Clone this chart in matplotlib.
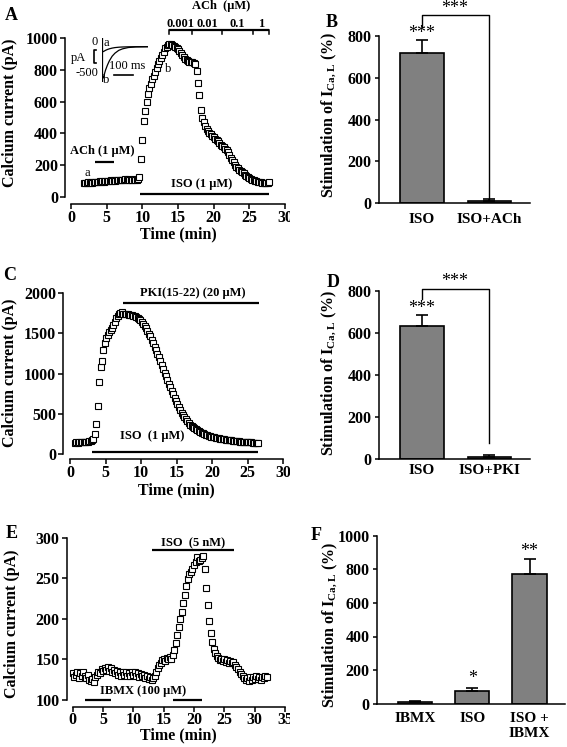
import numpy as np
import matplotlib
matplotlib.use("Agg")
import matplotlib.pyplot as plt
from matplotlib.transforms import Bbox

plt.rcParams["font.family"] = ["Liberation Serif", "DejaVu Serif"]
plt.rcParams["font.weight"] = "bold"
plt.rcParams["axes.labelweight"] = "bold"
plt.rcParams["mathtext.fontset"] = "custom"
plt.rcParams["mathtext.rm"] = "Liberation Serif"
plt.rcParams["axes.linewidth"] = 1.1

# ---- data -------------------------------------------------------------
# panel A: ISO then ACh, sampled every 0.2 min from 1.8 min
a_start, a_step = 1.8, 0.2
a_current = [85, 90, 86, 92, 88, 93, 90, 95, 92, 97, 94, 98, 96, 100, 97, 101, 99, 103, 100, 104,
             102, 106, 103, 107, 105, 108, 106, 110, 107, 111, 108, 112, 109, 110, 107, 112, 108, 110, 113,
             125, 237, 360, 480, 540, 600, 650, 685, 710, 740, 760, 785, 810, 835, 855, 876, 895, 915,
             935, 945, 958, 965, 960, 955, 948, 942, 938, 930, 918, 905, 890, 878, 868, 860, 853, 850,
             848, 846, 843, 838,
             790, 720, 640, 550, 495, 470, 445, 428, 415, 405, 394, 385, 375, 366, 358, 350, 340, 330,
             322, 313, 304, 296, 282, 262, 246, 232, 218, 204, 191, 181, 172, 163, 155, 148, 141, 134,
             127, 121, 115, 110, 106, 102, 99, 96, 94, 92, 91, 90, 90, 89, 90, 92]
ach_conc_labels = ["0.001", "0.01", "0.1", "1"]
ach_conc_edges = [13.8, 16.9, 21.2, 25.5, 27.7]

# inset current traces (ms, pA)
trace_ms = [0, 3, 6, 10, 15, 20, 30, 40, 55, 70, 90, 110, 140, 180, 244]
trace_a = [0, -70, -89, -85, -75, -65, -50, -38, -25, -16, -9, -5, -2, 0, 0]
trace_b = [0, -520, -564, -540, -480, -420, -330, -255, -170, -115, -65, -38, -15, -4, 0]

# panel C: ISO then PKI, every 0.2 min from 0.7 min
c_start, c_step = 0.7, 0.2
c_current = [140, 145, 142, 148, 150, 146, 152, 150, 155, 150, 158, 160, 175,
             185, 250, 370, 600, 900, 1080, 1150, 1290, 1375, 1437, 1480, 1510, 1540, 1570, 1602, 1640,
             1690, 1715, 1740, 1750,
             1760, 1745, 1740, 1735, 1740, 1730, 1725, 1730, 1720, 1715, 1700, 1690,
             1680, 1660, 1640, 1615, 1590, 1560, 1530, 1495, 1460, 1420,
             1380, 1335, 1290, 1245, 1200, 1155, 1105, 1060, 1010, 965,
             920, 875, 830, 785, 740, 695, 655, 615, 578, 545,
             512, 482, 455, 430, 407, 386, 366, 348, 332, 318,
             305, 293, 282, 272, 263, 255, 247, 240, 233, 227,
             221, 216, 211, 206, 202, 198, 194, 190, 187, 184,
             181, 178, 175, 172, 170, 168, 165, 163, 161, 159,
             157, 155, 153, 152, 150, 148, 147, 145, 144, 143,
             142, 141, 140, 140, 139]

# panel E: IBMX / ISO 5 nM, every 0.25 min from 0
e_start, e_step = 0.0, 0.25
e_current = [133, 128, 131, 135, 127, 133, 129, 134, 130, 127,
             131, 125, 123, 126, 122, 128, 131, 135, 133, 138,
             136, 140, 137, 141, 136, 139, 134, 137, 133, 136,
             131, 135, 130, 134, 131, 135, 130, 133, 129, 134,
             131, 135, 130, 133, 128, 132, 129, 131, 127, 130,
             126, 128, 125, 127, 130, 135, 139, 143, 146, 149,
             151, 148, 152, 150, 153, 151, 155, 162, 170, 180,
             190, 200, 209, 219, 229, 240, 249, 255, 258, 262,
             266, 270, 276, 271, 273, 275, 277, 262, 238, 217,
             197, 182, 171, 163, 158, 154, 152, 149, 151, 148,
             150, 147, 149, 146, 148, 145, 147, 143, 141, 138,
             135, 132, 130, 127, 125, 127, 124, 128, 125, 128,
             126, 129, 126, 128, 125, 128, 127, 129, 128]

# bar panels
b_labels = ["ISO", "ISO+ACh"]
b_values = [720, 8]
b_errors = [61, 10]
d_labels = ["ISO", "ISO+PKI"]
d_values = [633, 10]
d_errors = [51, 7]
f_labels = ["IBMX", "ISO", "ISO +\nIBMX"]
f_values = [10, 75, 771]
f_errors = [8, 20, 92]

# ---- figure -----------------------------------------------------------
W, H = 567, 747
fig = plt.figure(figsize=(W / 100, H / 100), dpi=100)
PT = 0.72  # points per pixel


def add_ax(x0, x1, y0, y1):
    return fig.add_axes([x0 / W, 1 - y1 / H, (x1 - x0) / W, (y1 - y0) / H])


def trace_axes(ax, xticks, yticks, left_off, bottom_off):
    ax.set_xlim(xticks[0], xticks[-1])
    ax.set_ylim(yticks[0], yticks[-1])
    for s in ["top", "right"]:
        ax.spines[s].set_visible(False)
    ax.spines["left"].set_position(("outward", left_off * PT))
    ax.spines["bottom"].set_position(("outward", bottom_off * PT))
    ax.spines["left"].set_bounds(yticks[0], yticks[-1])
    ax.spines["bottom"].set_bounds(xticks[0], xticks[-1])
    ax.set_xticks(xticks)
    ax.set_yticks(yticks)
    ax.tick_params(direction="out", length=3.6, width=1.1, labelsize=11.5, pad=1.5)
    ax.tick_params(axis="x", pad=0.5)
    ax.patch.set_visible(False)
    clip = Bbox.from_extents(0, 0, 290, H)
    for lab in ax.get_xticklabels():
        lab.set_clip_on(True)
        lab.set_clip_box(clip)


def squares(ax, start, step, values):
    t = start + step * np.arange(len(values))
    ax.plot(t, values, "s", ms=4.6, mfc="white", mec="black", mew=0.8, clip_on=False)


def hbar(ax, x0, x1, y):
    ax.plot([x0, x1], [y, y], color="black", lw=1.6, solid_capstyle="butt", clip_on=False)


def bar_axes(ax, labels, values, errors, xlim, yticks, width, pad):
    x = np.arange(len(labels))
    ax.bar(x, values, width=width, color="#808080", edgecolor="black", lw=1.2, zorder=2)
    ax.errorbar(x, values, yerr=[np.zeros(len(errors)), errors], fmt="none", ecolor="black",
                elinewidth=1.2, capsize=4.5, capthick=1.2, zorder=3)
    ax.set_xlim(xlim)
    ax.set_ylim(yticks[0], yticks[-1])
    for s in ["top", "right"]:
        ax.spines[s].set_visible(False)
    ax.set_yticks(yticks)
    ax.set_xticks(x)
    ax.set_xticklabels(labels)
    ax.tick_params(axis="x", length=0, pad=pad, labelsize=11)
    ax.tick_params(axis="y", direction="out", length=3, width=1.1, pad=2.5, labelsize=11.5)
    ax.patch.set_visible(False)
    ax.set_ylabel(r"Stimulation of I$_{\mathrm{Ca,L}}$ (%)", fontsize=11.5,
                  fontweight="bold", va="center")


def stars(ax, x, y, s):
    ax.text(x, y, s, ha="center", va="center", fontsize=13, fontweight="normal", clip_on=False)


def letter(x, y, s):
    fig.text(x / W, 1 - y / H, s, ha="center", va="center", fontsize=13, fontweight="bold")


def labels(ax, ylx, yly, xly):
    ax.set_ylabel("Calcium current (pA)", fontsize=11.5, fontweight="bold", va="center")
    ax.yaxis.set_label_coords(ylx, yly)
    ax.set_xlabel("Time (min)", fontsize=11.5, fontweight="bold", va="center")
    ax.xaxis.set_label_coords(0.5, xly)


# ---- A ----------------------------------------------------------------
ax = add_ax(71, 285, 38, 197)
trace_axes(ax, [0, 5, 10, 15, 20, 25, 30], [0, 200, 400, 600, 800, 1000], 6, 7)
squares(ax, a_start, a_step, a_current)
hbar(ax, 3.4, 6.0, 222)
ax.text(4.4, 291, "ACh (1 \u03bcM)", ha="center", va="center", fontsize=9)
hbar(ax, 9.7, 27.7, 19)
ax.text(18.3, 82, "ISO (1 \u03bcM)", ha="center", va="center", fontsize=9)
hbar(ax, ach_conc_edges[0], ach_conc_edges[-1], 1050)
for e in ach_conc_edges:
    ax.plot([e, e], [1050, 1025], color="black", lw=1.1, clip_on=False)
for lab, e0, e1 in zip(ach_conc_labels, ach_conc_edges[:-1], ach_conc_edges[1:]):
    ax.text((e0 + e1) / 2, 1085, lab, ha="center", va="center", fontsize=9)
ax.text(21.1, 1200, "ACh  (\u03bcM)", ha="center", va="center", fontsize=9)
ax.text(2.3, 153, "a", ha="center", va="center", fontsize=9, fontweight="normal")
ax.text(13.6, 803, "b", ha="center", va="center", fontsize=9, fontweight="normal")
labels(ax, -0.285, 0.53, -0.235)
letter(11.7, 15.3, "A")

# inset traces
ins = add_ax(101.7, 148, 38.3, 81.7)
ins.set_xlim(0, 244)
ins.set_ylim(-625, 150)
ins.axis("off")
ins.plot([0, 0], [150, -625], color="black", lw=0.9)
ins.plot(trace_ms, trace_a, color="black", lw=0.9)
ins.plot(trace_ms, trace_b, color="black", lw=0.9)
ins.plot([66, 166], [-505, -505], color="black", lw=1.2, clip_on=False)
ins.plot([-30, -43, -43, -30], [-59, -59, -291, -291], color="black", lw=1.2, clip_on=False)
small = dict(ha="center", va="center", fontsize=9, fontweight="normal", clip_on=False)
ins.text(-39, 89, "0", **small)
ins.text(-123, -207, "pA", **small)
ins.text(-79, -464, "-500", **small)
ins.text(23, 71, "a", **small)
ins.text(23, -595, "b", **small)
ins.text(132, -345, "100 ms", **small)

# ---- B ----------------------------------------------------------------
ax = add_ax(379, 530, 36, 203)
bar_axes(ax, b_labels, b_values, b_errors, (-0.637, 1.6), [0, 200, 400, 600, 800], 0.65, 7)
ax.yaxis.set_label_coords(-0.325, 0.527)
stars(ax, 0, 810, "***")
ax.plot([0, 0, 1, 1], [844, 900, 900, 20], color="black", lw=1.0, clip_on=False)
stars(ax, 0.49, 930, "***")
letter(331.7, 22.3, "B")

# ---- C ----------------------------------------------------------------
ax = add_ax(70, 283.3, 293, 454)
trace_axes(ax, [0, 5, 10, 15, 20, 25, 30], [0, 500, 1000, 1500, 2000], 6.7, 5.3)
squares(ax, c_start, c_step, c_current)
hbar(ax, 7.5, 26.6, 1870)
ax.text(17.3, 1996, "PKI(15-22) (20 \u03bcM)", ha="center", va="center", fontsize=9)
hbar(ax, 3.05, 26.5, 20)
ax.text(11.5, 224, "ISO  (1 \u03bcM)", ha="center", va="center", fontsize=9)
labels(ax, -0.281, 0.503, -0.225)
letter(10, 275, "C")

# ---- D ----------------------------------------------------------------
ax = add_ax(379, 530, 290.7, 458.7)
bar_axes(ax, d_labels, d_values, d_errors, (-0.637, 1.6), [0, 200, 400, 600, 800], 0.65, 4)
ax.yaxis.set_label_coords(-0.325, 0.51)
stars(ax, 0, 716, "***")
ax.plot([0, 0, 1, 1], [759, 807, 807, 76], color="black", lw=1.0, clip_on=False)
stars(ax, 0.49, 843, "***")
letter(332.7, 282.5, "D")

# ---- E ----------------------------------------------------------------
ax = add_ax(72.7, 285, 537.7, 700)
trace_axes(ax, [0, 5, 10, 15, 20, 25, 30, 35], [100, 150, 200, 250, 300], 6, 6.7)
squares(ax, e_start, e_step, e_current)
hbar(ax, 13.0, 26.6, 285)
ax.text(19.8, 293, "ISO  (5 nM)", ha="center", va="center", fontsize=9)
hbar(ax, 2.0, 6.3, 100.5)
hbar(ax, 16.5, 21.3, 100.5)
ax.text(11.6, 111.5, "IBMX (100 \u03bcM)", ha="center", va="center", fontsize=9)
labels(ax, -0.287, 0.468, -0.215)
letter(11.7, 533.3, "E")

# ---- F ----------------------------------------------------------------
ax = add_ax(377, 565, 535.7, 703.7)
bar_axes(ax, f_labels, f_values, f_errors, (-0.664, 2.62), [0, 200, 400, 600, 800, 1000], 0.6, 6)
ax.yaxis.set_label_coords(-0.25, 0.47)
stars(ax, 1, 151, "*")
stars(ax, 2, 905, "**")
letter(316, 536, "F")

fig.savefig("out.png", dpi=100)
